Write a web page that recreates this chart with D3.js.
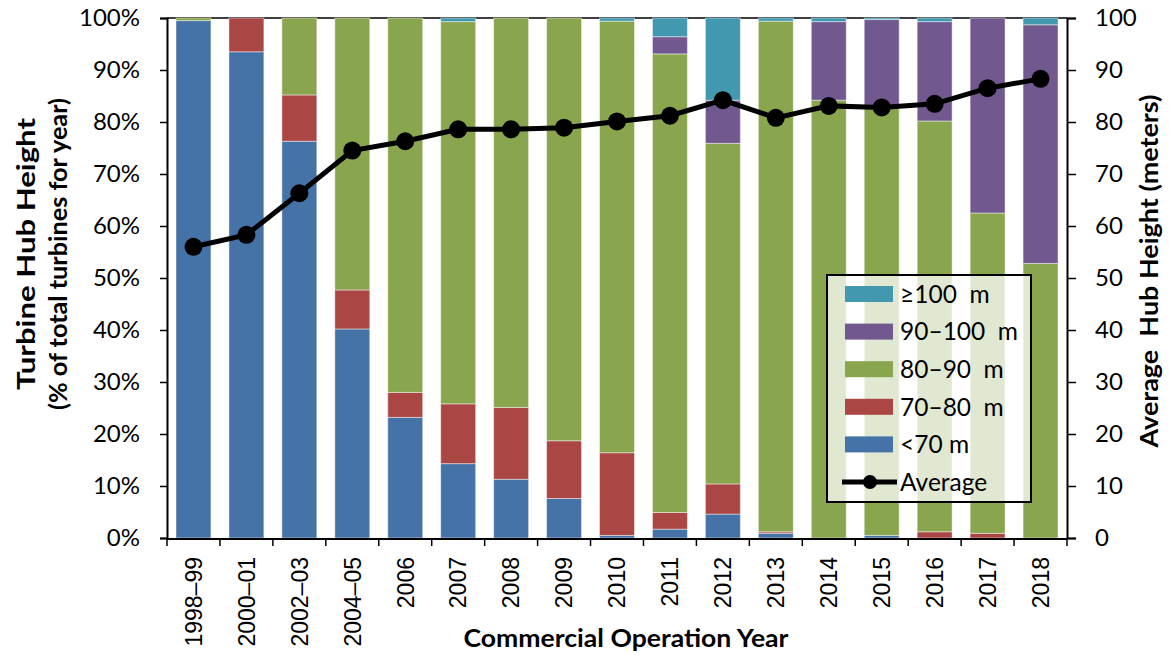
<!DOCTYPE html>
<html>
<head>
<meta charset="utf-8">
<script src="https://cdn.jsdelivr.net/npm/d3@7"></script>
<style>
  body { margin: 0; background: #fff; }
  text { fill: #000; }
</style>
</head>
<body>
<svg width="1169" height="663"></svg>
<script>
let years = ['1998–99', '2000–01', '2002–03', '2004–05', '2006', '2007', '2008', '2009',
    '2010', '2011', '2012', '2013', '2014', '2015', '2016', '2017', '2018'];
let below70 = [99.5, 93.5, 76.3, 40.2, 23.2, 14.3, 11.3, 7.6, 0.5, 1.7, 4.6, 0.9, 0, 0.5, 0, 0, 0];
let from70 = [0, 6.5, 8.9, 7.5, 4.8, 11.5, 13.8, 11.1, 15.9, 3.2, 5.8, 0.3, 0, 0, 1.2, 0.9, 0];
let from80 = [0.5, 0, 14.8, 52.3, 72.0, 73.5, 74.9, 81.3, 83.0, 88.2, 65.5, 98.2, 84.2, 82.2, 79.0, 61.6, 52.8];
let from90 = [0, 0, 0, 0, 0, 0, 0, 0, 0, 3.3, 8.3, 0, 15.1, 17.0, 19.1, 37.5, 45.9];
let above100 = [0, 0, 0, 0, 0, 0.7, 0, 0, 0.6, 3.6, 15.8, 0.6, 0.7, 0.3, 0.7, 0, 1.3];
let average = [56.0, 58.3, 66.3, 74.5, 76.3, 78.6, 78.6, 78.9, 80.1, 81.2, 84.2, 80.8, 83.1, 82.8, 83.5, 86.5, 88.3];

let seriesKeys = ['lt70', 'm70', 'm80', 'm90', 'ge100'];
let seriesNames = ['<70 m', '70–80  m', '80–90  m', '90–100  m', '≥100  m'];
let seriesColors = ['#4572A7', '#AA4643', '#89A54E', '#71588F', '#4198AF'];
let leftTicks = [0, 10, 20, 30, 40, 50, 60, 70, 80, 90, 100];

let rows = years.map((y, i) => ({
    year: y, lt70: below70[i], m70: from70[i], m80: from80[i], m90: from90[i], ge100: above100[i]
}));

let svg = d3.select('svg');
let plotLeft = 167, plotRight = 1067, plotTop = 18, plotBottom = 538;
let labelFont = 'Lato, "Open Sans", sans-serif';

let x = d3.scaleBand().domain(years).range([plotLeft, plotRight]).paddingInner(0.34).paddingOuter(0.17);
let y = d3.scaleLinear().domain([0, 100]).range([plotBottom, plotTop]);
let y2 = d3.scaleLinear().domain([0, 100]).range([plotBottom, plotTop]);
let color = d3.scaleOrdinal().domain(seriesKeys).range(seriesColors);

// top border of the plot area
svg.append('line')
    .attr('x1', plotLeft).attr('x2', plotRight).attr('y1', plotTop).attr('y2', plotTop)
    .attr('stroke', '#000').attr('stroke-width', 1.5);

let stacked = d3.stack().keys(seriesKeys)(rows);

svg.append('g').selectAll('g')
    .data(stacked)
    .join('g')
    .attr('fill', d => color(d.key))
    .selectAll('rect')
    .data(d => d.filter(s => s[1] - s[0] > 0))
    .join('rect')
    .attr('x', d => x(d.data.year))
    .attr('width', x.bandwidth())
    .attr('y', d => y(d[1]))
    .attr('height', d => y(d[0]) - y(d[1]))
    .attr('stroke', 'rgba(255,255,255,0.45)')
    .attr('stroke-width', 1);

// left axis
let gLeft = svg.append('g').attr('transform', `translate(${plotLeft},0)`)
    .call(d3.axisLeft(y).tickValues(leftTicks).tickSize(7).tickPadding(20).tickFormat(d => d + '%'));
// right axis
let gRight = svg.append('g').attr('transform', `translate(${plotRight},0)`)
    .call(d3.axisRight(y2).tickValues(leftTicks).tickSize(9).tickPadding(19));
[gLeft, gRight].forEach(g => {
    g.select('.domain').attr('stroke', '#000').attr('stroke-width', 2);
    g.selectAll('.tick line').attr('stroke', '#000').attr('stroke-width', 1.5);
    g.selectAll('.tick text').attr('font-family', labelFont).attr('font-size', 24).attr('fill', '#000');
});

// bottom axis: ticks at category boundaries
let gBottom = svg.append('g');
gBottom.append('line')
    .attr('x1', plotLeft).attr('x2', plotRight).attr('y1', plotBottom + 1).attr('y2', plotBottom + 1)
    .attr('stroke', '#000').attr('stroke-width', 2);
let step = x.step();
gBottom.selectAll('line.tk')
    .data(d3.range(years.length + 1))
    .join('line')
    .attr('class', 'tk')
    .attr('x1', i => plotLeft + i * step).attr('x2', i => plotLeft + i * step)
    .attr('y1', plotBottom).attr('y2', plotBottom + 8)
    .attr('stroke', '#000').attr('stroke-width', 1.5);
gBottom.selectAll('text')
    .data(years)
    .join('text')
    .attr('transform', d => `translate(${x(d) + x.bandwidth() / 2}, 557) rotate(-90)`)
    .attr('text-anchor', 'end')
    .attr('dy', '0.36em')
    .attr('font-family', '"Liberation Sans", Arial, sans-serif')
    .attr('font-size', 23)
    .text(d => d);

// average line
let line = d3.line()
    .x((d, i) => x(years[i]) + x.bandwidth() / 2)
    .y(d => y2(d));
svg.append('path')
    .datum(average)
    .attr('d', line)
    .attr('fill', 'none')
    .attr('stroke', '#000')
    .attr('stroke-width', 5);
svg.append('g').selectAll('circle')
    .data(average)
    .join('circle')
    .attr('cx', (d, i) => x(years[i]) + x.bandwidth() / 2)
    .attr('cy', d => y2(d))
    .attr('r', 9)
    .attr('fill', '#000');

// axis titles
let title = (tx, ty, rot, txt, len) => svg.append('text')
    .attr('transform', `translate(${tx},${ty}) rotate(${rot})`)
    .attr('text-anchor', 'middle').attr('dy', '0.35em')
    .attr('font-family', labelFont).attr('font-weight', 'bold').attr('font-size', 25)
    .attr('textLength', len).attr('lengthAdjust', 'spacingAndGlyphs')
    .style('white-space', 'pre')
    .text(txt);
title(26, 254, -90, 'Turbine Hub Height', 272);
title(58, 254, -90, '(% of total turbines for year)', 312);
title(1149, 271, -90, 'Average  Hub Height (meters)', 353);
title(626, 638, 0, 'Commercial Operation Year', 325);

// legend
let legend = svg.append('g').attr('transform', 'translate(827,275)');
legend.append('rect')
    .attr('width', 204).attr('height', 227)
    .attr('fill', 'rgba(255,255,255,0.75)')
    .attr('stroke', '#000').attr('stroke-width', 2);
let legendItems = seriesKeys.slice().reverse();
let rowH = 37.6;
legend.selectAll('rect.sw')
    .data(legendItems)
    .join('rect')
    .attr('class', 'sw')
    .attr('x', 18).attr('width', 48)
    .attr('y', (d, i) => 19 + i * rowH - 8).attr('height', 16)
    .attr('fill', d => color(d));
legend.selectAll('text')
    .data(legendItems)
    .join('text')
    .attr('x', 73)
    .attr('y', (d, i) => 19 + i * rowH)
    .attr('dy', '0.36em')
    .attr('font-family', labelFont).attr('font-size', 24.5)
    .style('white-space', 'pre')
    .text(d => seriesNames[seriesKeys.indexOf(d)]);
let avgY = 19 + 5 * rowH;
legend.append('line')
    .attr('x1', 15).attr('x2', 70).attr('y1', avgY).attr('y2', avgY)
    .attr('stroke', '#000').attr('stroke-width', 5);
legend.append('circle')
    .attr('cx', 43).attr('cy', avgY).attr('r', 7).attr('fill', '#000');
legend.append('text')
    .attr('x', 73).attr('y', avgY).attr('dy', '0.36em')
    .attr('font-family', labelFont).attr('font-size', 24.5)
    .text('Average');
</script>
</body>
</html>
